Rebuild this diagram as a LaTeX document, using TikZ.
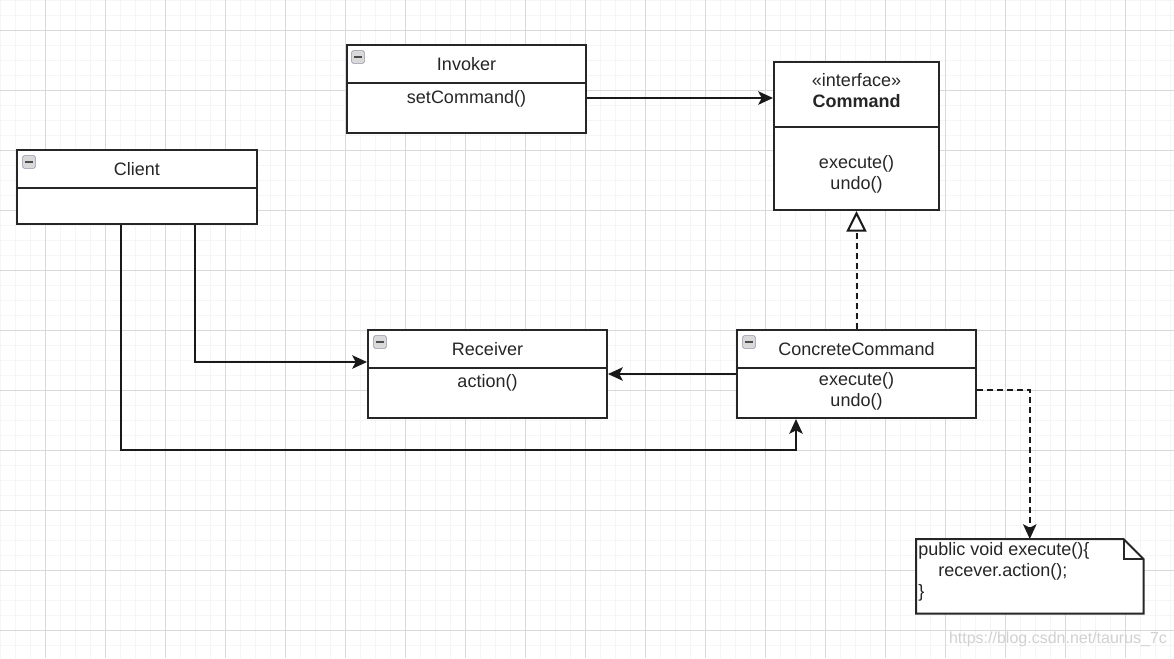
\documentclass[tikz,border=0pt]{standalone}
\usepackage{fontspec}
\setmainfont{Liberation Sans}
\usetikzlibrary{arrows.meta,positioning,calc}

\begin{document}
\begin{tikzpicture}[
      x=0.75pt,y=-0.75pt,
      minorgrid/.style={draw=black!4,line width=0.75pt},
      majorgrid/.style={draw=black!15,line width=0.75pt},
      classbox/.style={
         draw=black!85,
         line width=1.5pt,
         fill=white,
         anchor=north west,
         inner sep=0pt},
      umltext/.style={
         inner sep=0pt,
         align=center,
         text=black!85,
         font=\fontsize{13.5}{15.75}\selectfont},
      icon/.style={
         draw=blue!20!black!45,
         fill=black!15,
         rounded corners=1pt,
         minimum size=9.5pt,
         inner sep=0pt,
         path picture={\draw[black!70,line width=1.4pt]
            ([xshift=-3pt]path picture bounding box.center) --
            ([xshift=3pt]path picture bounding box.center);}},
      divider/.style={draw=black!85,line width=1.5pt},
      myarrow/.style={draw=black!90,line width=1.5pt,-{Stealth[length=11pt,width=10pt,inset=2.5pt]}},
      realize/.style={draw=black!90,line width=1.5pt,dash pattern=on 4.5pt off 3pt,
         -{Triangle[length=15.5pt,width=15pt,fill=white]}},
      dependency/.style={draw=black!90,line width=1.5pt,dash pattern=on 4.5pt off 3pt,
         -{Stealth[length=11pt,width=10pt,inset=2.5pt]}}
      ]
      \useasboundingbox (0,0) rectangle (1174,658);
      \fill[white] (0,0) rectangle (1174,658);

      % background grid
      \foreach \gx in {0,15,...,1170}
         \draw[minorgrid] (\gx,0) -- (\gx,658);
      \foreach \gy in {0,15,...,655}
         \draw[minorgrid] (0,\gy) -- (1174,\gy);
      \foreach \gx in {45,105,...,1125}
         \draw[majorgrid] (\gx,0) -- (\gx,658);
      \foreach \gy in {30,90,...,630}
         \draw[majorgrid] (0,\gy) -- (1174,\gy);

      % classes
      \node[classbox,minimum width=179.25pt,minimum height=66pt] (inv) at (346,44) {};
      \node[classbox,minimum width=123.75pt,minimum height=111pt] (cmd) at (773,61) {};
      \node[classbox,minimum width=180pt,minimum height=55.5pt] (cl) at (16,149) {};
      \node[classbox,minimum width=179.25pt,minimum height=66pt] (rcv) at (367,329) {};
      \node[classbox,minimum width=179.25pt,minimum height=66pt] (cc) at (736,329) {};

      \draw[divider] ($(inv.north west)+(0,39)$) -- ($(inv.north east)+(0,39)$);
      \draw[divider] ($(cmd.north west)+(0,66)$) -- ($(cmd.north east)+(0,66)$);
      \draw[divider] ($(cl.north west)+(0,39)$) -- ($(cl.north east)+(0,39)$);
      \draw[divider] ($(rcv.north west)+(0,39)$) -- ($(rcv.north east)+(0,39)$);
      \draw[divider] ($(cc.north west)+(0,39)$) -- ($(cc.north east)+(0,39)$);

      \node[icon] (invI) at ($(inv.north west)+(12,13)$) {};
      \node[icon] (clI) at ($(cl.north west)+(13,13)$) {};
      \node[icon] (rcvI) at ($(rcv.north west)+(13,13)$) {};
      \node[icon] (ccI) at ($(cc.north west)+(13,13)$) {};

      \node[umltext] (invT) at ($(inv.north)+(0,20)$) {Invoker};
      \node[umltext] (invM) at ($(inv.north)+(0,55)$) {setCommand()};
      \node[umltext] (cmdT) at ($(cmd.north)+(0,30)$) {«interface»\\\textbf{Command}};
      \node[umltext] (cmdM) at ($(cmd.north)+(0,113.5)$) {execute()\\undo()};
      \node[umltext] (clT) at ($(cl.north)+(0,20)$) {Client};
      \node[umltext] (rcvT) at ($(rcv.north)+(0,20)$) {Receiver};
      \node[umltext] (rcvM) at ($(rcv.north)+(0,54)$) {action()};
      \node[umltext] (ccT) at ($(cc.north)+(0,20)$) {ConcreteCommand};
      \node[umltext] (ccM) at ($(cc.north)+(0,62.5)$) {execute()\\undo()};

      % note
      \node[anchor=north west,inner sep=0pt,minimum width=170.25pt,minimum height=55.5pt] (note) at (916,539) {};
      \draw[line width=1.5pt,draw=black!85,fill=white]
         (note.north west) -- ($(note.north east)+(-20,0)$) -- ($(note.north east)+(0,20)$)
         -- (note.south east) -- (note.south west) -- cycle;
      \draw[line width=1.5pt,draw=black!85]
         ($(note.north east)+(-20,0)$) -- ($(note.north east)+(-20,20)$) -- ($(note.north east)+(0,20)$);
      \node[umltext,align=left,anchor=west] (noteT) at ($(note.west)+(2,-4)$)
         {public void execute()\{\\\hspace*{15pt}recever.action();\\\}};

      % connectors
      \draw[myarrow] ($(inv.north east)+(0,54)$) -- ($(cmd.north west)+(0,37)$);
      \draw[realize] (cc.north) -- (cmd.south);
      \draw[myarrow] ($(cc.north west)+(0,45)$) -- ($(rcv.north east)+(0,45)$);
      \draw[myarrow] ($(cl.south west)+(179,0)$) |- ($(rcv.north west)+(0,33)$);
      \draw[myarrow] ($(cl.south west)+(105,0)$) -- ++(0,225) -| ($(cc.south west)+(60,0)$);
      \draw[dependency] ($(cc.north east)+(0,61)$) -| (note.north);

      \node[text=black!18,inner sep=0pt,font=\fontsize{12}{14}\selectfont] (wm) at (1058,639)
         {https://blog.csdn.net/taurus\_7c};
\end{tikzpicture}
\end{document}
